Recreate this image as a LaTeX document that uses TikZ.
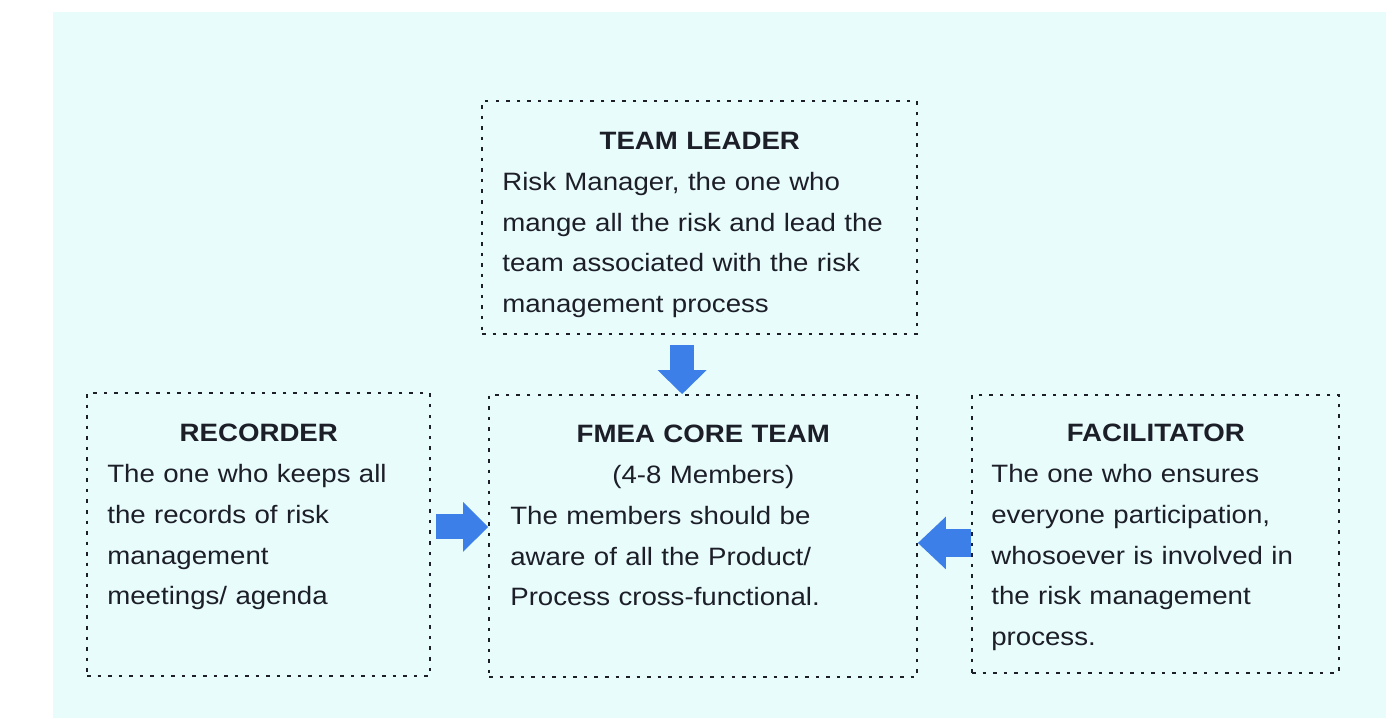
\documentclass[tikz,border=0pt]{standalone}
\usepackage{fontspec}
\setmainfont{Liberation Sans}[FakeStretch=1.1]
\usepackage{tikz}
\usetikzlibrary{arrows.meta}
\definecolor{icecyan}{RGB}{232, 252, 252}
\definecolor{cobalt}{RGB}{61, 127, 232}
\definecolor{inkblack}{RGB}{28, 30, 40}

\begin{document}
\begin{tikzpicture}[x=0.02cm, y=-0.02cm,
        card/.style={draw=inkblack, line width=1.1pt, dash pattern=on 2pt off 4pt, inner sep=0pt},
        cardtext/.style={anchor=north west, inner sep=0pt, align=left, text=inkblack, font=\fontsize{14.3pt}{23.2pt}\selectfont},
        flow/.style={draw=cobalt, line cap=butt}]
            \useasboundingbox (0,0) rectangle (1392,718);
            \fill[icecyan] (53,12) rectangle (1386,718);

            \node[card, minimum width=8.7cm,  minimum height=4.66cm] (lead) at (699.5,217.5) {};
            \node[card, minimum width=8.56cm, minimum height=5.64cm] (core) at (703,536)     {};
            \node[card, minimum width=6.86cm, minimum height=5.66cm] (rec)  at (258.5,534.5) {};
            \node[card, minimum width=7.34cm, minimum height=5.56cm] (fac)  at (1155.5,534)  {};

            \node[cardtext, text width=7.9cm] (leadtext) at (502,132)
                 {{\centering\bfseries TEAM LEADER\par}Risk Manager, the one who\\mange all the risk and lead the\\team associated with the risk\\management process};
            \node[cardtext, text width=7.72cm] (coretext) at (510,425)
                 {{\centering\bfseries FMEA CORE TEAM\par}{\centering (4-8 Members)\par}The members should be\\aware of all the Product/\\Process cross-functional.};
            \node[cardtext, text width=6.06cm] (rectext) at (107,424)
                 {{\centering\bfseries RECORDER\par}The one who keeps all\\the records of risk\\management\\meetings/ agenda};
            \node[cardtext, text width=6.58cm] (factext) at (991,424)
                 {{\centering\bfseries FACILITATOR\par}The one who ensures\\everyone participation,\\whosoever is involved in\\the risk management\\process.};

            \draw[flow, line width=13.6pt, -{Triangle[length=13.6pt, width=27.8pt, line width=0pt]}, shorten <=5.7pt]
                 ([xshift=-9.9pt]lead.south) -- ([xshift=-9.9pt]lead.south |- core.north);
            \draw[flow, line width=14.2pt, -{Triangle[length=14.2pt, width=28.3pt, line width=0pt]}, shorten <=2.8pt]
                 ([yshift=4.3pt]rec.east) -- ([yshift=4.3pt]rec.east -| core.west);
            \draw[flow, line width=16.4pt, -{Triangle[length=15.9pt, width=30pt, line width=0pt]}]
                 ([yshift=-5.1pt]fac.west) -- ([yshift=-5.1pt]fac.west -| core.east);
        \end{tikzpicture}
\end{document}
